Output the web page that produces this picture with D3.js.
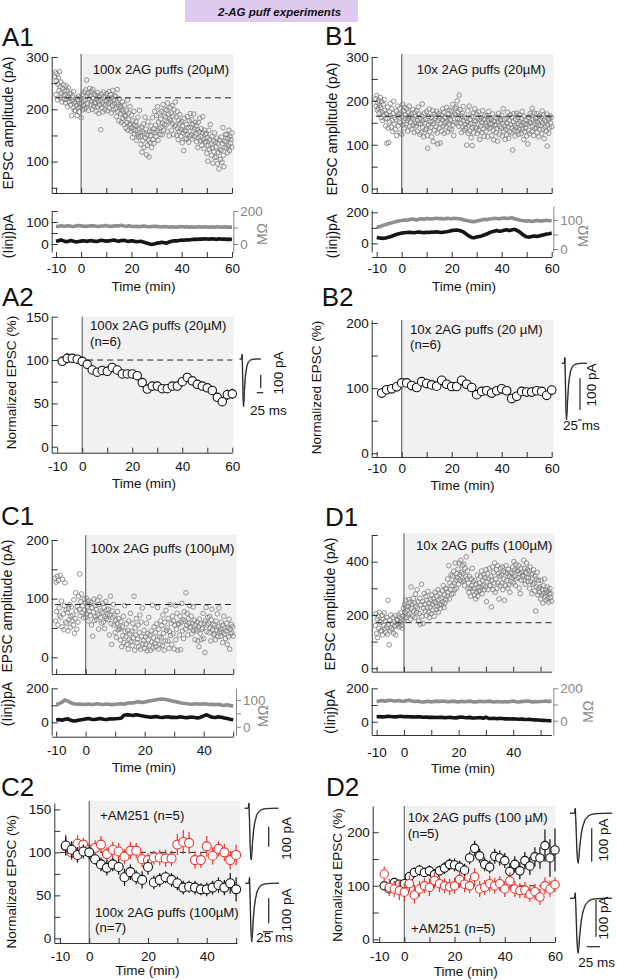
<!DOCTYPE html>
<html>
<head>
<meta charset="utf-8">
<script src="https://cdn.jsdelivr.net/npm/d3@7"></script>
<style>
body { margin: 0; background: #fff; }
svg { display: block; }
</style>
</head>
<body>
<script>
// ---------- data ----------

// single EPSC amplitudes (pA), one sweep every 12 s starting at -10.4 min
const SCATTER_T0 = -10.4
const SCATTER_DT = 0.2

const a1Amp = [
  262,271,228,255,268,218,248,260,236,272, 243,222,252,231,214,240,226,247,219,235,
  228,212,245,219,236,205,224,241,215,230, 221,208,230,188,216,225,203,234,212,198,
  214,197,222,208,188,219,203,225,195,210, 205,222,184,212,228,199,216,207,233,201,
  218,237,204,256,225,210,231,198,220,240, 226,209,234,215,200,238,221,206,229,213,
  211,227,196,220,232,205,216,192,224,208, 218,161,229,203,214,195,233,210,222,199,
  225,208,217,230,197,221,212,234,203,219, 214,228,193,222,207,236,199,218,211,226,
  201,224,186,213,238,195,209,178,220,204, 192,206,175,199,214,183,196,171,208,188,
  186,164,197,175,218,160,181,193,170,205, 172,158,189,165,146,178,161,196,153,169,
  160,176,141,168,152,185,147,163,198,155, 149,133,166,118,157,140,172,127,154,185,
  145,162,113,151,131,176,141,109,158,136, 150,168,127,157,184,142,163,135,196,155,
  170,148,188,159,205,141,176,163,193,152, 181,165,196,151,174,209,160,187,171,200,
  185,170,198,158,212,176,191,149,181,204, 178,193,160,207,172,187,152,199,168,214,
  170,185,150,196,163,142,179,158,190,174, 162,148,177,136,168,155,121,183,159,144,
  158,171,143,186,152,165,137,178,149,192, 166,151,180,143,171,158,191,148,162,175,
  153,169,138,161,127,175,145,157,183,140, 148,163,131,155,186,142,125,160,137,152,
  139,154,116,146,101,131,160,124,143,171, 133,112,148,126,97,140,119,155,108,137,
  128,109,145,96,135,118,86,141,123,104, 121,147,99,134,165,112,90,139,127,152,
  138,126,151,117,144,130,160,121,147,135, 142,128,155
]

const b1Amp = [
  205,188,212,179,196,183,201,172,190,208, 185,162,198,174,155,192,168,203,178,159,
  143,171,103,160,186,138,105,175,152,194, 166,140,182,155,130,171,199,147,162,135,
  158,176,121,165,188,143,170,152,183,128, 150,172,124,163,192,145,177,138,185,160,
  168,147,182,155,131,173,160,188,142,165, 152,170,136,161,180,145,158,128,174,149,
  165,143,178,131,156,186,148,170,124,160, 147,128,166,193,139,155,118,172,150,134,
  158,136,175,121,92,164,145,181,130,152, 140,163,118,153,178,107,148,170,132,160,
  165,142,176,127,102,155,171,138,160,104, 148,168,131,157,182,143,174,126,161,150,
  163,141,185,152,129,170,147,179,136,158, 155,177,134,166,192,145,121,170,151,183,
  168,186,149,200,160,175,142,213,157,180, 150,166,128,172,141,187,155,133,163,146,
  138,160,99,152,177,126,145,188,131,157, 148,116,165,98,139,172,127,155,182,140,
  154,138,170,125,160,146,175,132,112,158, 143,162,128,151,178,136,157,119,167,145,
  150,131,165,142,118,156,176,137,160,147, 139,158,121,148,170,133,111,153,144,163,
  146,128,160,137,108,152,172,124,141,157, 154,138,167,120,148,182,131,158,143,112,
  135,160,122,149,174,141,115,156,130,168, 146,127,163,138,88,152,171,133,144,120,
  158,140,172,131,162,148,124,168,137,153, 144,125,159,176,136,150,112,165,130,147,
  138,156,120,147,102,162,133,151,125,171, 149,166,130,183,142,158,121,172,137,154,
  160,139,171,128,152,145,118,165,135,157, 144,163,125,177,150,136,168,114,155,140,
  152,131,170,97,145,161,126,158,138,166, 150,162,141
]

const c1Amp = [
  135,62,128,78,138,55,131,84,71,140, 68,96,52,133,74,47,88,127,60,81,
  58,76,45,83,64,90,51,70,86,62, 72,55,98,41,66,110,79,48,87,60,
  104,82,142,71,95,108,76,88,67,99, 80,93,68,101,74,87,62,96,78,90,
  71,94,55,85,36,77,99,63,88,69, 82,64,97,72,48,90,103,68,79,58,
  76,92,60,85,49,70,95,66,81,73, 64,82,38,72,104,57,22,79,68,90,
  55,71,42,63,34,58,78,47,66,51, 48,29,61,18,52,37,70,25,88,44,
  35,57,22,46,14,62,30,40,75,27, 44,20,58,33,104,12,50,38,66,25,
  31,55,18,42,72,14,60,36,84,23, 28,46,15,35,22,58,11,40,30,68,
  20,38,12,45,26,89,16,33,52,24, 42,18,57,29,85,14,48,35,22,62,
  33,54,20,72,41,12,60,28,80,46, 50,28,66,15,44,90,37,58,22,70,
  40,62,14,55,88,30,48,75,12,58, 56,38,70,13,60,92,45,64,32,78,
  62,48,110,55,75,38,66,58,88,50, 52,70,40,58,86,45,63,30,55,48,
  45,60,28,52,18,65,40,57,30,48, 50,75,32,58,8,62,85,44,55,68,
  58,42,70,50,28,64,82,47,56,38, 40,55,30,62,46,74,35,52,84,44,
  48,36,60,42,25,55,70,40,50,32, 45,58,22,50,35,65,14,48,40,56,
  42,52,36
]

const d1Amp = [
  160,205,130,185,115,195,150,210,175,140, 172,140,198,125,185,160,208,148,178,135,
  155,190,128,255,165,88,180,140,200,150, 168,145,190,132,175,158,198,125,160,182,
  180,165,200,155,190,172,208,160,185,150, 195,225,180,240,210,255,190,232,218,200,
  230,258,205,248,185,305,225,240,195,262, 215,245,190,278,232,210,295,225,250,178,
  205,262,165,238,315,195,250,168,225,280, 240,215,270,198,255,228,288,210,245,190,
  230,258,205,275,240,218,262,195,250,285, 245,220,270,232,295,210,258,238,280,225,
  262,238,290,250,310,228,275,245,298,258, 300,270,335,285,385,260,320,295,350,278,
  310,345,280,365,320,295,395,330,300,355, 340,372,315,395,350,330,405,360,325,385,
  355,330,390,310,375,345,418,335,365,300, 320,285,345,300,270,335,310,375,290,325,
  300,275,330,260,315,285,350,270,305,290, 320,290,345,305,365,280,330,310,350,295,
  340,305,370,250,325,355,295,335,375,310, 310,345,230,330,380,295,360,320,395,285,
  335,370,300,385,320,355,260,345,310,375, 350,320,380,295,365,335,255,360,310,385,
  330,355,300,372,315,345,285,360,325,340, 355,380,320,400,345,370,310,390,335,365,
  365,340,385,300,355,280,375,330,360,345, 350,405,330,375,315,360,395,340,370,325,
  340,365,300,380,325,350,280,355,315,370, 320,290,345,215,335,305,360,275,330,300,
  285,305,260,330,275,295,245,310,280,335, 270,295,255,285,305,262,290,248,280,300,
  265,280,252
]

// series resistance (MOhm) and holding current (pA), one value per minute from -10 min
const RS_T0 = -10
const a1Rs = [108,106,110,107,109,111,108,106,109,112,110, 108,107,109,111,110,108,106,109,110,112,
  108,107,109,111,110,113,109,108,110,107, 106,108,105,107,109,106,104,106,108,107,
  105,103,106,104,102,105,103,101,104,106, 103,105,102,104,101,103,105,102,104,103,
  101,104,102,105,103,101,104,102,103,102]
const a1Iinj = [12,15,18,14,10,13,16,12,9,11,13, 15,12,14,16,13,11,14,17,15,13,
  14,16,18,15,13,16,17,14,12,15, 13,10,11,12,8,4,1,-2,0,3,
  5,8,6,4,9,12,15,14,16,18, 17,19,18,20,22,21,23,22,24,23,
  22,24,23,21,24,22,23,21,22,20]
const b1Rs = [78,76,80,83,85,88,90,93,95,97,98, 100,99,101,103,102,100,103,104,102,105,
  104,103,105,106,104,105,103,106,105,104, 106,105,104,102,100,98,96,95,94,96,
  98,100,102,101,103,104,106,105,104,106, 107,105,106,108,104,102,100,98,97,96,
  97,95,96,98,97,96,98,99,97,98]
const b1Iinj = [38,35,33,32,36,40,46,52,58,62,66, 68,70,72,70,68,71,73,70,69,72,
  70,73,71,74,72,70,73,75,78,82, 84,86,82,78,70,58,46,38,36,40,
  44,48,54,60,68,74,78,82,78,80, 85,88,82,86,90,84,76,62,50,42,
  40,44,48,44,48,52,56,60,62,66]
const c1Rs = [84,86,92,100,96,90,86,84,85,83,84, 85,83,84,86,84,83,85,84,82,84,
  85,86,84,88,90,89,92,94,91,93, 95,97,99,101,103,104,102,100,97,95,
  93,90,88,87,85,84,86,85,84,86, 85,83,84,82,84,81,80,82,79,78]
const c1Iinj = [14,16,12,18,20,12,8,10,14,16,20, 22,18,16,20,22,18,16,20,19,21,
  22,24,42,45,43,40,44,42,38,35, 33,30,32,34,30,28,31,33,29,30,
  28,32,30,27,29,31,28,26,30,38, 44,36,30,28,32,30,26,22,18,15]
const d1Rs = [118,122,125,120,124,126,123,121,125,122,120, 124,126,122,119,121,117,115,118,120,116,
  119,121,118,122,120,117,119,121,118,116, 120,117,119,121,118,116,118,120,117,119,
  121,118,116,119,117,115,118,116,119,121, 117,115,118,120,122,120,116,118,117,119,
  120,122,118,121]
const d1Iinj = [30,31,29,30,32,31,30,29,31,32,30, 31,30,29,28,30,29,27,28,26,27,
  26,25,27,26,24,25,26,24,23,26, 28,25,24,26,23,22,24,25,21,27,
  20,19,21,18,20,19,17,18,16,17, 16,15,16,14,13,14,12,11,10,9,
  8,7,6,6]

// normalized EPSC (%), mean and SEM
const tSixty = [-8,-6,-4,-2,0,2,4,6,8,10,12,14,16,18,20,22,24,26,28,30,32,34,36,38,40,42,44,46,48,50,52,54,56,58,60]
const tFifty = [-8,-6,-4,-2,0,2,4,6,8,10,12,14,16,18,20,22,24,26,28,30,32,34,36,38,40,42,44,46,48,50]

const a2Mean = [98.5,102,102,101,98.5,95,88.5,86,88,87,91.5,88.5,84,84,84,82,74,66.5,70,70,67,67,70,70,75,80,76,72,70,68,65,57,52,60,61]
const a2Err = [5,6,5,4,4,4,3,4,4,3,4,4,3,4,4,4,5,4,4,4,4,4,4,3,4,5,4,4,4,4,5,5,5,6,6]

const b2Mean = [92.5,97.5,99,102,108,108,104,101,110,107,105,103,112,106,102.5,102.5,112,106,101,90,95,96,92.5,96,99,96,84,87.5,95,94,94,96,95,89,97]
const b2Err = [7,6,6,5,6,6,5,5,6,5,5,6,6,5,5,5,6,6,5,6,5,6,6,5,6,6,6,6,6,6,7,6,6,6,7]

const c2Puff = [108,103,97,101,100,92,86,82,86,83,71,77,71,68,83,65,68,71,68,64,59,60,59,57,57,59,62,59,64,57]
const c2PuffErr = [12,10,9,8,8,6,8,9,8,9,10,9,8,10,9,8,8,7,8,8,8,7,8,7,8,8,9,9,12,14]
const c2Am = [107,100,110,109,103,105,109,98,103,101,95,102,102,92,91,94,94,93,93,109,112,111,91,91,107,96,104,100,91,97]
const c2AmErr = [10,9,10,8,8,9,10,8,9,10,9,10,9,9,8,8,9,10,9,12,14,13,10,9,12,10,9,10,11,12]

const d2Puff = [100,94,106,103,104,117,125,129,125,128,121,128,133,140,139,135,129,152,170,156,140,135,155,152,147,127,140,128,147,137,154,152,175,152,167]
const d2PuffErr = [8,8,9,8,8,9,9,10,9,10,10,10,11,11,12,12,12,12,14,13,13,12,14,14,14,15,15,16,16,17,18,20,30,35,40]
const d2Am = [122,97,94,91,88,104,83,94,100,97,110,104,100,98,100,112,103,100,117,94,97,104,100,104,94,109,94,91,92,84,89,79,100,94,102]
const d2AmErr = [14,16,15,18,17,15,16,15,14,16,15,16,14,15,15,16,15,14,16,15,14,15,15,14,15,16,15,14,15,14,15,15,16,15,14]

// example EPSC sweeps (ms, pA)
const traceMs = [0,6,7,7.5,8,9,10,11,12,13,15,17,20,24,28,33,40,48,56]
const traceBefore = [0,0,30,-20,-70,-210,-290,-300,-265,-205,-125,-80,-40,-18,-8,-3,-1,0,0]
const traceAfter = [0,0,30,-20,-65,-190,-265,-275,-245,-190,-118,-76,-38,-17,-7,-3,-1,0,0]

// ---------- drawing ----------
const FONT = '"Liberation Sans", Arial, sans-serif'
const SHADE = "#f1f1f1"
const GRAY = "#828282"
const RED = "#e8362f"

const svg = d3.select("body").append("svg")
  .attr("width", 617).attr("height", 980)
  .style("font-family", FONT)

function txt(x, y, s, size, fill) {
  return svg.append("text").attr("x", x).attr("y", y)
    .attr("font-size", size).attr("fill", fill || "#111").text(s)
}
function vtxt(cx, cy, s, size, fill) {
  svg.append("text").attr("transform", `translate(${cx},${cy}) rotate(-90)`)
    .attr("text-anchor", "middle").attr("dominant-baseline", "central")
    .attr("font-size", size).attr("fill", fill || "#111").text(s)
}
function paint(g, line, text) {
  g.selectAll(".domain, .tick line").attr("stroke", line).attr("stroke-width", 1)
  g.selectAll("text").attr("font-family", FONT).attr("font-size", 13.5).attr("fill", text)
}
function ticksFor(scale, step) {
  const [a, b] = scale.domain()
  return d3.range(Math.ceil(a / step) * step, b + 1e-6, step)
}
function yLeft(scale, xpos, step, labels) {
  const g = svg.append("g").attr("transform", `translate(${xpos},0)`)
    .call(d3.axisLeft(scale).tickValues(ticksFor(scale, step)).tickSize(-6).tickSizeOuter(0).tickPadding(3)
      .tickFormat(d => labels.includes(d) ? String(d) : ""))
  paint(g, "#333", "#111")
}
function yRight(scale, xpos, step, labels) {
  const g = svg.append("g").attr("transform", `translate(${xpos},0)`)
    .call(d3.axisRight(scale).tickValues(ticksFor(scale, step)).tickSize(5).tickSizeOuter(0).tickPadding(2)
      .tickFormat(d => labels.includes(d) ? String(d) : ""))
  paint(g, "#888", "#888")
}
function xAxis(scale, ypos, tmax, labels, pad) {
  const g = svg.append("g").attr("transform", `translate(0,${ypos})`)
    .call(d3.axisBottom(scale).tickValues(d3.range(-10, tmax + 1, 10)).tickSize(-5).tickSizeOuter(0).tickPadding(pad || 0)
      .tickFormat(d => labels.includes(d) ? String(d) : ""))
  paint(g, "#333", "#111")
}
function shade(x, top, right, bottom) {
  svg.append("rect").attr("x", x(0)).attr("y", top)
    .attr("width", right - x(0)).attr("height", bottom - top).attr("fill", SHADE)
}
function zeroLine(x, top, bottom) {
  svg.append("line").attr("x1", x(0)).attr("x2", x(0)).attr("y1", top).attr("y2", bottom)
    .attr("stroke", "#777").attr("stroke-width", 1.3)
}
function dashed(x, y, v, t0, t1) {
  svg.append("line").attr("x1", x(t0)).attr("x2", x(t1)).attr("y1", y(v)).attr("y2", y(v))
    .attr("stroke", "#222").attr("stroke-width", 1).attr("stroke-dasharray", "6,4")
}

// top scatter: single EPSC amplitudes
function ampPanel(p) {
  const x = d3.scaleLinear().domain(p.xd).range(p.xr)
  const y = d3.scaleLinear().domain(p.yd).range(p.yr)
  const bottom = p.yr[0]
  shade(x, p.top, p.right, bottom)
  svg.append("g").selectAll("circle").data(p.amp).join("circle")
    .attr("cx", (d, i) => x(SCATTER_T0 + i * SCATTER_DT))
    .attr("cy", d => y(d)).attr("r", 2.3)
    .attr("fill", "none").attr("stroke", GRAY).attr("stroke-width", 0.85)
  dashed(x, y, p.base, SCATTER_T0, p.tmax)
  zeroLine(x, p.top, bottom)
  yLeft(y, p.xr[0], p.ystep, p.ylab)
  xAxis(x, bottom, p.tmax, [])
  return x
}

// lower strip: holding current (black) and Rs (grey)
function rsPanel(x, p) {
  const yl = d3.scaleLinear().domain(p.ld).range(p.lr)
  const yr = d3.scaleLinear().domain(p.rd).range(p.rr)
  const tx = (d, i) => x(RS_T0 + i)
  svg.append("path").datum(p.rs)
    .attr("d", d3.line().x(tx).y(d => yr(d)))
    .attr("fill", "none").attr("stroke", "#8e8e8e").attr("stroke-width", 3.6).attr("stroke-linejoin", "round")
  svg.append("path").datum(p.iinj)
    .attr("d", d3.line().x(tx).y(d => yl(d)))
    .attr("fill", "none").attr("stroke", "#151515").attr("stroke-width", 3.6).attr("stroke-linejoin", "round")
  yLeft(yl, p.lx, p.lstep, p.llab)
  yRight(yr, p.rx, p.rstep, p.rlab)
  xAxis(x, p.axisY, p.tmax, p.xlab, p.pad)
}

// normalized averages
function avgPanel(p) {
  const x = d3.scaleLinear().domain(p.xd).range(p.xr)
  const y = d3.scaleLinear().domain(p.yd).range(p.yr)
  const bottom = p.yr[0]
  shade(x, p.top, p.right, bottom)
  if (p.dash) dashed(x, y, 100, -10, p.tmax)
  zeroLine(x, p.top, bottom)
  p.series.forEach(s => {
    const g = svg.append("g")
    g.selectAll("line").data(s.v).join("line")
      .attr("x1", (d, i) => x(s.t[i])).attr("x2", (d, i) => x(s.t[i]))
      .attr("y1", (d, i) => y(d - s.e[i])).attr("y2", (d, i) => y(d + s.e[i]))
      .attr("stroke", s.color).attr("stroke-width", 1.2)
    g.selectAll("circle").data(s.v).join("circle")
      .attr("cx", (d, i) => x(s.t[i])).attr("cy", d => y(d)).attr("r", p.r)
      .attr("fill", "#fff").attr("stroke", s.color).attr("stroke-width", 1.1)
  })
  yLeft(y, p.xr[0], p.ystep, p.ylab)
  xAxis(x, bottom, p.tmax, p.xlab, p.pad)
}

// example sweeps with scale bars
function inset(p) {
  const x = d3.scaleLinear().domain([0, 56]).range([p.x0, p.x0 + 56 * p.k])
  const y = d3.scaleLinear().domain([-300, 0]).range([p.yPk, p.y0])
  const line = d3.line().x((d, i) => x(traceMs[i])).y(d => y(d))
  svg.append("path").datum(traceAfter).attr("d", line)
    .attr("fill", "none").attr("stroke", "#999").attr("stroke-width", 1.6)
  svg.append("path").datum(traceBefore).attr("d", line)
    .attr("fill", "none").attr("stroke", "#222").attr("stroke-width", 1)
}
function bar(x1, y1, x2, y2) {
  svg.append("line").attr("x1", x1).attr("y1", y1).attr("x2", x2).attr("y2", y2)
    .attr("stroke", "#333").attr("stroke-width", 1.3)
}

// header
svg.append("rect").attr("x", 185).attr("y", 0).attr("width", 173).attr("height", 22).attr("fill", "#dfc9ee")
txt(218, 16, "2-AG puff experiments", 11.5).attr("font-weight", "bold").attr("font-style", "italic")

// ---- A1 ----
txt(2, 46, "A1", 26)
const xA1 = ampPanel({ xd: [-11.7, 60], xr: [51.7, 232], yd: [40, 300], yr: [193, 57], top: 54, right: 233.5,
  amp: a1Amp, base: 222, ystep: 50, ylab: [100, 200, 300], tmax: 60 })
txt(92.7, 74, "100x 2AG puffs (20µM)", 13.2)
rsPanel(xA1, { ld: [-36.4, 150], lr: [252, 211], rd: [-48.5, 200], rr: [252, 211], lx: 51.7, rx: 233.3,
  lstep: 50, llab: [0, 100], rstep: 100, rlab: [0, 200], rs: a1Rs, iinj: a1Iinj,
  axisY: 257, tmax: 60, xlab: [-10, 0, 20, 40, 60], pad: 6 })
vtxt(8, 123, "EPSC amplitude (pA)", 14)
vtxt(8, 236, "(Iinj)pA", 14)
vtxt(262, 234, "MΩ", 14, "#888")
txt(143.5, 291, "Time (min)", 13.5).attr("text-anchor", "middle")

// ---- B1 ----
txt(325, 45, "B1", 26)
const xB1 = ampPanel({ xd: [-12, 60], xr: [371.7, 551.7], yd: [-10, 300], yr: [193, 57], top: 54, right: 553.5,
  amp: b1Amp, base: 165, ystep: 50, ylab: [0, 100, 200, 300], tmax: 60 })
txt(416.7, 74, "10x 2AG puffs (20µM)", 13.2)
rsPanel(xB1, { ld: [-56, 215], lr: [252, 210], rd: [-10.3, 148], rr: [252, 206], lx: 371.7, rx: 553.3,
  lstep: 100, llab: [0, 200], rstep: 50, rlab: [0, 100], rs: b1Rs, iinj: b1Iinj,
  axisY: 257, tmax: 60, xlab: [-10, 0, 20, 40, 60], pad: 6 })
vtxt(331.5, 129, "EPSC amplitude (pA)", 14)
vtxt(331.5, 236, "(Iinj)pA", 14)
vtxt(582.5, 236, "MΩ", 14, "#888")
txt(464, 291, "Time (min)", 13.5).attr("text-anchor", "middle")

// ---- A2 ----
txt(2, 306, "A2", 26)
avgPanel({ xd: [-12.2, 60], xr: [51.7, 232.3], yd: [-6.9, 150], yr: [452.7, 316.7], top: 316.7, right: 233.5,
  ystep: 25, ylab: [0, 50, 100, 150], dash: true, tmax: 60, xlab: [-10, 0, 20, 40, 60], pad: 9, r: 4.2,
  series: [{ t: tSixty, v: a2Mean, e: a2Err, color: "#111" }] })
txt(90, 330, "100x 2AG puffs (20µM)", 13.2)
txt(90, 345.5, "(n=6)", 13.2)
vtxt(11, 382.5, "Normalized EPSC (%)", 13.5)
txt(144, 488, "Time (min)", 13.5).attr("text-anchor", "middle")
inset({ x0: 239.5, k: 0.38, y0: 359, yPk: 406.7 })
bar(260.7, 375, 260.7, 388.3)
bar(256.7, 392.7, 263.3, 392.7)
vtxt(278, 373, "100 pA", 13.5)
txt(250, 415, "25 ms", 13.5)

// ---- B2 ----
txt(321.7, 306, "B2", 26)
avgPanel({ xd: [-12, 60], xr: [371.7, 551.7], yd: [-5.7, 204.6], yr: [457, 320], top: 320, right: 553.5,
  ystep: 50, ylab: [0, 100, 200], dash: false, tmax: 60, xlab: [-10, 0, 20, 40, 60], pad: 6, r: 4.3,
  series: [{ t: tSixty, v: b2Mean, e: b2Err, color: "#111" }] })
txt(410, 334, "10x 2AG puffs (20 µM)", 13.2)
txt(410, 348.5, "(n=6)", 13.2)
vtxt(316.7, 387.5, "Normalized EPSC (%)", 13.5)
txt(462.5, 490, "Time (min)", 13.5).attr("text-anchor", "middle")
inset({ x0: 561.7, k: 0.45, y0: 363.3, yPk: 420 })
bar(580, 378.3, 580, 410)
bar(578, 420, 581.5, 420)
vtxt(591.7, 385, "100 pA", 13.5)
txt(563, 430, "25 ms", 13.5)

// ---- C1 ----
txt(1, 525, "C1", 26)
const xC1 = ampPanel({ xd: [-11.5, 50], xr: [51.7, 233.2], yd: [-28.5, 200], yr: [674, 540], top: 535, right: 236.7,
  amp: c1Amp, base: 90, ystep: 50, ylab: [0, 100, 200], tmax: 50 })
txt(90.7, 553, "100x 2AG puffs (100µM)", 13.2)
rsPanel(xC1, { ld: [-74.7, 200], lr: [735, 688.3], rd: [-31, 144], rr: [735, 688.3], lx: 51.7, rx: 236,
  lstep: 100, llab: [0, 200], rstep: 50, rlab: [0, 100], rs: c1Rs, iinj: c1Iinj,
  axisY: 736.7, tmax: 50, xlab: [-10, 0, 20, 40], pad: 9 })
vtxt(7, 606, "EPSC amplitude (pA)", 14)
vtxt(7, 704, "(Iinj)pA", 14)
vtxt(263.3, 716, "MΩ", 14, "#888")
txt(144, 772, "Time (min)", 13.5).attr("text-anchor", "middle")

// ---- D1 ----
txt(325, 526, "D1", 26)
const xD1 = ampPanel({ xd: [-11.8, 54], xr: [371.7, 551.5], yd: [-12.8, 500], yr: [671.7, 535], top: 533.3, right: 555,
  amp: d1Amp, base: 171, ystep: 100, ylab: [0, 200, 400], tmax: 54 })
txt(416, 550, "10x 2AG puffs (100µM)", 13.2)
rsPanel(xD1, { ld: [-79.6, 200], lr: [735, 688.3], rd: [-88, 200], rr: [735, 688.3], lx: 371.7, rx: 553.3,
  lstep: 100, llab: [0, 200], rstep: 100, rlab: [0, 200], rs: d1Rs, iinj: d1Iinj,
  axisY: 735, tmax: 50, xlab: [-10, 0, 20, 40], pad: 12 })
vtxt(330, 604, "EPSC amplitude (pA)", 14)
vtxt(330, 711.7, "(Iinj)pA", 14)
vtxt(588.3, 711.7, "MΩ", 14, "#888")
txt(463, 773, "Time (min)", 13.5).attr("text-anchor", "middle")

// ---- C2 ----
txt(1, 796, "C2", 26)
avgPanel({ xd: [-11.9, 50.3], xr: [54.3, 237], yd: [-5.4, 157.4], yr: [943, 803], top: 800.7, right: 240,
  ystep: 25, ylab: [0, 50, 100, 150], dash: true, tmax: 50, xlab: [-10, 0, 20, 40], pad: 8, r: 4.5,
  series: [{ t: tFifty, v: c2Am, e: c2AmErr, color: RED },
           { t: tFifty, v: c2Puff, e: c2PuffErr, color: "#111" }] })
txt(100, 820, "+AM251 (n=5)", 13.2)
txt(95, 917, "100x 2AG puffs (100µM)", 13.2)
txt(95, 932, "(n=7)", 13.2)
vtxt(11, 881.7, "Normalized EPSC (%)", 13.5)
txt(147.5, 975, "Time (min)", 13.5).attr("text-anchor", "middle")
inset({ x0: 244.7, k: 0.6, y0: 808.3, yPk: 860 })
inset({ x0: 245.3, k: 0.6, y0: 883.3, yPk: 941.7 })
bar(268.7, 826.7, 268.7, 846.7)
bar(268.7, 898.3, 268.7, 923.3)
bar(263, 931.7, 273, 931.7)
vtxt(286.3, 838.3, "100 pA", 13.5)
vtxt(286.3, 910, "100 pA", 13.5)
txt(256.3, 942, "25 ms", 13.5)

// ---- D2 ----
txt(326, 796, "D2", 26)
avgPanel({ xd: [-12.6, 60], xr: [372.7, 555], yd: [-5, 249], yr: [942, 806], top: 806, right: 555.5,
  ystep: 50, ylab: [0, 100, 200], dash: true, tmax: 60, xlab: [-10, 0, 20, 40, 60], pad: 9, r: 4.2,
  series: [{ t: tSixty, v: d2Puff, e: d2PuffErr, color: "#111" },
           { t: tSixty, v: d2Am, e: d2AmErr, color: RED }] })
txt(407.7, 822, "10x 2AG puffs (100 µM)", 13.2)
txt(407.7, 838, "(n=5)", 13.2)
txt(411, 933, "+AM251 (n=5)", 13.2)
vtxt(337.5, 875, "Normalized EPSC (%)", 13.5)
txt(465.8, 976, "Time (min)", 13.5).attr("text-anchor", "middle")
inset({ x0: 570, k: 0.75, y0: 813.3, yPk: 863.3 })
inset({ x0: 570, k: 0.75, y0: 898.3, yPk: 953.3 })
bar(591.7, 828.3, 591.7, 861.7)
bar(596, 900, 596, 936.7)
bar(586.7, 946.7, 600, 946.7)
vtxt(603.3, 840, "100 pA", 13.5)
vtxt(603, 918, "100 pA", 13.5)
txt(578.3, 967, "25 ms", 13.5)
</script>
</body>
</html>
